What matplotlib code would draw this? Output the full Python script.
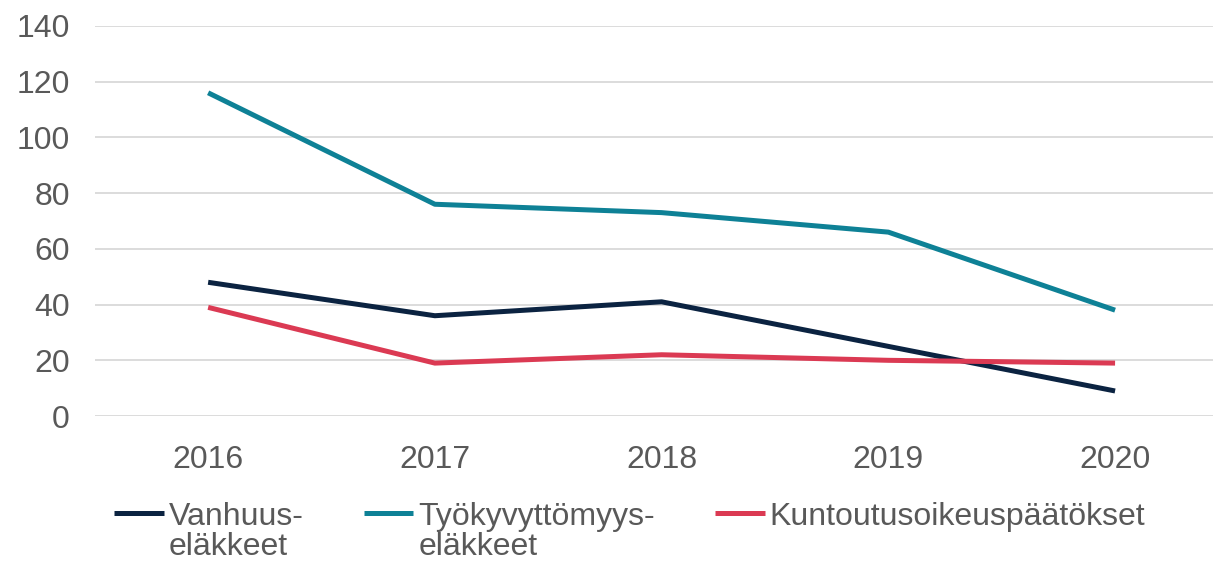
import matplotlib.pyplot as plt
import numpy as np

plt.rcParams['font.family'] = ['Liberation Sans', 'DejaVu Sans']

years = ['2016', '2017', '2018', '2019', '2020']
vanhuus = [48, 36, 41, 25, 9]
tyokyvyttomyys = [116, 76, 73, 66, 38]
kuntoutus = [39, 19, 22, 20, 19]

# first line goes in the legend, second line is put under it by hand
labels = ['Vanhuus-', 'Työkyvyttömyys-', 'Kuntoutusoikeuspäätökset']
second_lines = ['eläkkeet', 'eläkkeet', '']
colors = ['#0b2341', '#0e8196', '#db3a53']
grey = '#595959'

fig = plt.figure(figsize=(12.15, 5.63), dpi=100)
ax = fig.add_axes([0.078, 0.261, 0.92, 0.693])

x = np.arange(len(years))
for vals, lab, c in zip([vanhuus, tyokyvyttomyys, kuntoutus], labels, colors):
    ax.plot(x, vals, color=c, lw=3.6, label=lab, solid_capstyle='butt')

ax.set_ylim(0, 140)
ax.set_xlim(-0.5, 4.43)
ax.set_yticks(range(0, 141, 20))
ax.set_xticks(x)
ax.set_xticklabels(years)
ax.yaxis.grid(True, color='#d9d9d9', lw=1.3)
ax.set_axisbelow(True)
for s in ax.spines.values():
    s.set_visible(False)
ax.tick_params(length=0, labelsize=23, colors=grey)
ax.tick_params(axis='x', pad=21)
ax.tick_params(axis='y', pad=18)

leg = fig.legend(loc='upper left', bbox_to_anchor=(0.094, 0.109), ncol=3, frameon=False,
                 fontsize=23, handlelength=1.56, handletextpad=0.15, columnspacing=1.875,
                 borderpad=0, borderaxespad=0)
for t in leg.get_texts():
    t.set_color(grey)

fig.canvas.draw()
inv = fig.transFigure.inverted()
for t, extra in zip(leg.get_texts(), second_lines):
    if not extra:
        continue
    bb = t.get_window_extent()
    x0, y0 = inv.transform((bb.x0, bb.y0 - 30))
    fig.text(x0, y0, extra, fontsize=23, color=grey, va='bottom', ha='left')

fig.savefig('out.png', dpi=100)
